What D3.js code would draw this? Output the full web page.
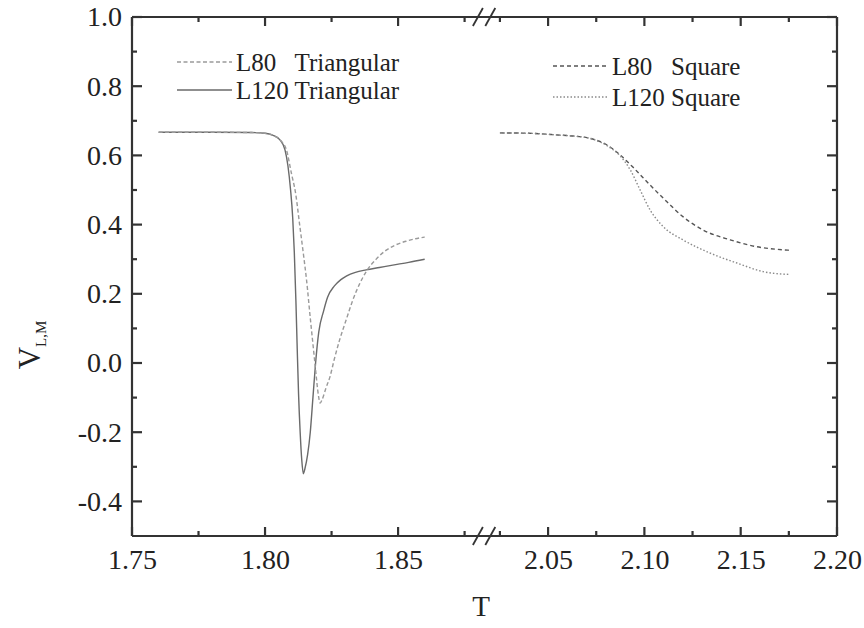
<!DOCTYPE html>
<html>
<head>
<meta charset="utf-8">
<script src="https://cdn.jsdelivr.net/npm/d3@7/dist/d3.min.js"></script>
<style>
  body { margin: 0; background: #fff; }
  svg text { font-family: "Liberation Serif", "Times New Roman", serif; fill: #222; }
</style>
</head>
<body>
<svg id="chart" width="864" height="628"></svg>
<script>
// ---- data ----
const triL80T = [1.76, 1.78, 1.795, 1.80, 1.803, 1.806, 1.808, 1.810, 1.8115, 1.813, 1.8145, 1.8156, 1.817, 1.818, 1.819, 1.820, 1.8207, 1.8215, 1.823, 1.8244, 1.826, 1.828, 1.8305, 1.833, 1.8355, 1.838, 1.842, 1.8457, 1.849, 1.853, 1.8565, 1.86];
const triL80V = [0.667, 0.667, 0.666, 0.664, 0.658, 0.642, 0.617, 0.545, 0.49, 0.40, 0.31, 0.24, 0.13, 0.055, -0.02, -0.09, -0.116, -0.105, -0.07, -0.04, 0.01, 0.066, 0.125, 0.182, 0.228, 0.264, 0.302, 0.327, 0.341, 0.352, 0.359, 0.364];

const triL120T = [1.76, 1.78, 1.795, 1.80, 1.803, 1.8056, 1.8075, 1.8086, 1.8096, 1.8104, 1.811, 1.8116, 1.8121, 1.8126, 1.8132, 1.8138, 1.8144, 1.815, 1.816, 1.817, 1.818, 1.819, 1.8202, 1.822, 1.8235, 1.826, 1.8285, 1.8307, 1.834, 1.838, 1.843, 1.848, 1.854, 1.86];
const triL120V = [0.667, 0.667, 0.666, 0.664, 0.658, 0.645, 0.616, 0.57, 0.50, 0.42, 0.32, 0.18, 0.04, -0.09, -0.20, -0.28, -0.32, -0.305, -0.265, -0.20, -0.10, 0.0, 0.09, 0.15, 0.19, 0.222, 0.241, 0.252, 0.262, 0.269, 0.276, 0.283, 0.291, 0.30];

const sqL80T = [2.025, 2.04, 2.055, 2.065, 2.072, 2.0806, 2.0875, 2.0944, 2.103, 2.1117, 2.12, 2.1306, 2.1445, 2.1584, 2.175];
const sqL80V = [0.665, 0.664, 0.659, 0.655, 0.649, 0.63, 0.601, 0.564, 0.514, 0.466, 0.423, 0.384, 0.356, 0.336, 0.326];

const sqL120T = [2.025, 2.04, 2.055, 2.065, 2.072, 2.0806, 2.0875, 2.0927, 2.0978, 2.103, 2.1098, 2.12, 2.134, 2.148, 2.1617, 2.175];
const sqL120V = [0.665, 0.664, 0.659, 0.655, 0.649, 0.628, 0.598, 0.558, 0.50, 0.442, 0.394, 0.356, 0.318, 0.289, 0.264, 0.256];

const leftMajor = [1.75, 1.80, 1.85];
const leftMinor = [1.775, 1.825, 1.875];
const rightMajor = [2.05, 2.10, 2.15, 2.20];
const rightMinor = [2.025, 2.075, 2.125, 2.175];
const yMajor = [-0.4, -0.2, 0.0, 0.2, 0.4, 0.6, 0.8, 1.0];
const yMinor = [-0.3, -0.1, 0.1, 0.3, 0.5, 0.7, 0.9];

const legendLeft = ["L80   Triangular", "L120 Triangular"];
const legendRight = ["L80   Square", "L120 Square"];

// ---- layout ----
const svg = d3.select("#chart");
const X0 = 132, X1 = 837, Y0 = 17, Y1 = 536;
const xL = d3.scaleLinear().domain([1.75, 1.88]).range([X0, 477.9]);
const xR = d3.scaleLinear().domain([2.02, 2.20]).range([490.3, X1]);
const y = d3.scaleLinear().domain([-0.5, 1.0]).range([Y1, Y0]);

const axisColor = "#333";
const fmtX = d3.format(".2f");
const fmtY = v => d3.format(".1f")(v).replace("\u2212", "-");
const TS = 28;

function labelsOnly(g) {
  g.select(".domain").remove();
  g.selectAll(".tick line").remove();
  g.selectAll(".tick text").attr("font-size", TS).attr("font-family", "Liberation Serif").attr("fill", "#222");
}
svg.append("g").attr("transform", `translate(0,${Y1})`)
  .call(d3.axisBottom(xL).tickValues(leftMajor).tickSize(0).tickPadding(13).tickFormat(fmtX)).call(labelsOnly);
svg.append("g").attr("transform", `translate(0,${Y1})`)
  .call(d3.axisBottom(xR).tickValues(rightMajor).tickSize(0).tickPadding(13).tickFormat(fmtX)).call(labelsOnly);
svg.append("g").attr("transform", `translate(${X0},0)`)
  .call(d3.axisLeft(y).tickValues(yMajor).tickSize(0).tickPadding(10).tickFormat(fmtY)).call(labelsOnly);

// tick marks (inward)
const ticks = svg.append("g").attr("stroke", axisColor).attr("stroke-width", 2.2);
function hTicks(scale, vals, len) {
  ticks.selectAll(null).data(vals).join("line")
    .attr("x1", d => scale(d)).attr("x2", d => scale(d)).attr("y1", Y1).attr("y2", Y1 - len);
  ticks.selectAll(null).data(vals).join("line")
    .attr("x1", d => scale(d)).attr("x2", d => scale(d)).attr("y1", Y0).attr("y2", Y0 + len);
}
hTicks(xL, leftMajor, 9); hTicks(xL, leftMinor, 5);
hTicks(xR, rightMajor, 9); hTicks(xR, rightMinor, 5);
function vTicks(vals, len) {
  ticks.selectAll(null).data(vals).join("line")
    .attr("y1", d => y(d)).attr("y2", d => y(d)).attr("x1", X0).attr("x2", X0 + len);
  ticks.selectAll(null).data(vals).join("line")
    .attr("y1", d => y(d)).attr("y2", d => y(d)).attr("x1", X1).attr("x2", X1 - len);
}
vTicks(yMajor, 10); vTicks(yMinor, 5);

const frame = svg.append("g").attr("stroke", axisColor).attr("stroke-width", 2.2).attr("fill", "none");
frame.append("line").attr("x1", X0).attr("x2", X0).attr("y1", Y0).attr("y2", Y1);
frame.append("line").attr("x1", X1).attr("x2", X1).attr("y1", Y0).attr("y2", Y1);
frame.append("line").attr("x1", X0).attr("x2", X1).attr("y1", Y0).attr("y2", Y0);
frame.append("line").attr("x1", X0).attr("x2", X1).attr("y1", Y1).attr("y2", Y1);

// axis break marks
const bx = [xL.range()[1], xR.range()[0]];
[Y0, Y1].forEach(yy => {
  bx.forEach(xx => {
    frame.append("line").attr("x1", xx - 5).attr("y1", yy + 9).attr("x2", xx + 5).attr("y2", yy - 9)
      .attr("stroke-width", 1.8);
  });
});

// ---- curves ----
const lineL = d3.line().x(d => xL(d[0])).y(d => y(d[1])).curve(d3.curveMonotoneX);
const lineR = d3.line().x(d => xR(d[0])).y(d => y(d[1])).curve(d3.curveMonotoneX);
const zip = (a, b) => a.map((v, i) => [v, b[i]]);

const styles = {
  l80tri: { stroke: "#9a9a9a", dash: "4,2.5", w: 1.4 },
  l120tri: { stroke: "#6a6a6a", dash: null, w: 1.4 },
  l80sq: { stroke: "#555", dash: "4,3", w: 1.4 },
  l120sq: { stroke: "#8a8a8a", dash: "1.5,2", w: 1.4 }
};
function drawPath(d, gen, st) {
  const p = svg.append("path").datum(d).attr("d", gen).attr("fill", "none")
    .attr("stroke", st.stroke).attr("stroke-width", st.w);
  if (st.dash) p.attr("stroke-dasharray", st.dash);
}
drawPath(zip(triL120T, triL120V), lineL, styles.l120tri);
drawPath(zip(triL80T, triL80V), lineL, styles.l80tri);
drawPath(zip(sqL80T, sqL80V), lineR, styles.l80sq);
drawPath(zip(sqL120T, sqL120V), lineR, styles.l120sq);

// ---- legends ----
function legend(items, sts, x, ys) {
  items.forEach((t, i) => {
    const st = sts[i];
    const l = svg.append("line").attr("x1", x).attr("x2", x + 55).attr("y1", ys[i]).attr("y2", ys[i])
      .attr("stroke", st.stroke).attr("stroke-width", st.w);
    if (st.dash) l.attr("stroke-dasharray", st.dash);
    svg.append("text").attr("x", x + 59).attr("y", ys[i]).attr("dy", "0.35em")
      .attr("font-size", 25).style("white-space", "pre").text(t);
  });
}
legend(legendLeft, [styles.l80tri, styles.l120tri], 177, [62, 90]);
legend(legendRight, [styles.l80sq, styles.l120sq], 553, [66, 97]);

// ---- axis titles ----
svg.append("text").attr("x", 481).attr("y", 616).attr("text-anchor", "middle")
  .attr("font-size", 29).text("T");
const yt = svg.append("text").attr("transform", "translate(40,345) rotate(-90)")
  .attr("text-anchor", "middle").attr("font-size", 31);
yt.append("tspan").text("V");
yt.append("tspan").attr("font-size", 15).attr("dy", 6).text("L,M");
</script>
</body>
</html>
